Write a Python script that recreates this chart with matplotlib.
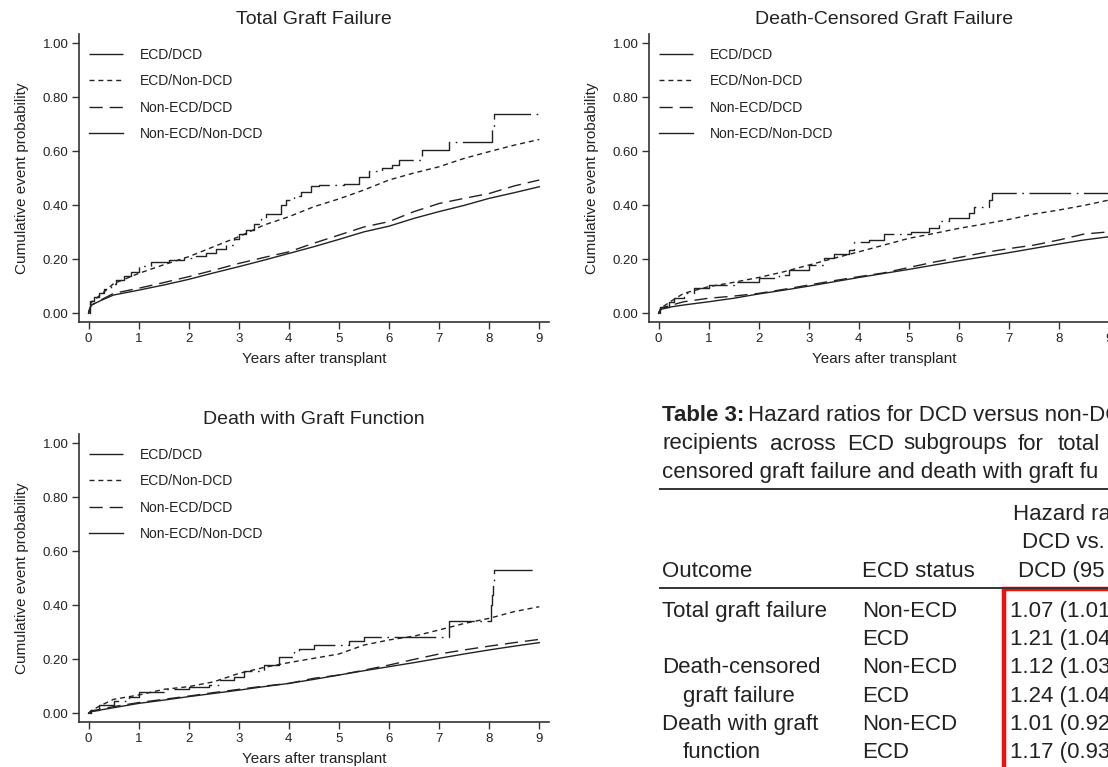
import matplotlib
matplotlib.use("Agg")
import matplotlib.pyplot as plt
from matplotlib.patches import Rectangle
from matplotlib.ticker import FormatStrFormatter

plt.rcParams['font.family'] = ['Liberation Sans', 'DejaVu Sans']

INK = '#222222'
W, H = 1108, 767

# follow-up grid (years) used for the three large groups
years = [0, 0.05, 0.25, 0.5, 1.0, 1.5, 2.0, 2.5, 3.0, 3.5, 4.0, 4.5,
         5.0, 5.5, 6.0, 6.5, 7.0, 7.5, 8.0, 8.5, 9.0]

# --- Total graft failure ---
tgf_ecd_dcd_t = [0, 0.02, 0.1, 0.2, 0.3, 0.45, 0.55, 0.7, 0.85, 1.0,
                 1.25, 1.6, 1.9, 2.1, 2.35, 2.55, 2.75, 2.9, 3.0, 3.15,
                 3.3, 3.45, 3.55, 3.85, 3.95, 4.1, 4.25, 4.45, 4.6, 5.1,
                 5.4, 5.6, 5.85, 6.05, 6.2, 6.65, 7.2, 8.05, 8.1, 9.0]
tgf_ecd_dcd = [0.0, 0.045, 0.06, 0.075, 0.09, 0.11, 0.125, 0.14, 0.155, 0.175,
               0.19, 0.197, 0.205, 0.212, 0.225, 0.24, 0.255, 0.275, 0.295, 0.31,
               0.33, 0.35, 0.368, 0.40, 0.42, 0.435, 0.45, 0.47, 0.475, 0.48,
               0.505, 0.528, 0.54, 0.55, 0.568, 0.605, 0.636, 0.69, 0.74, 0.74]
tgf_ecd_nondcd = [0.0, 0.04, 0.07, 0.11, 0.148, 0.18, 0.21, 0.247, 0.284, 0.327,
                  0.358, 0.395, 0.424, 0.457, 0.494, 0.52, 0.543, 0.574, 0.599,
                  0.623, 0.644]
tgf_nonecd_dcd = [0.0, 0.03, 0.05, 0.074, 0.093, 0.114, 0.136, 0.16, 0.185, 0.207,
                  0.228, 0.26, 0.29, 0.32, 0.34, 0.377, 0.407, 0.426, 0.444,
                  0.472, 0.494]
tgf_nonecd_nondcd = [0.0, 0.03, 0.048, 0.068, 0.086, 0.105, 0.126, 0.15, 0.173,
                     0.197, 0.222, 0.247, 0.274, 0.302, 0.323, 0.352, 0.377,
                     0.40, 0.426, 0.447, 0.469]

# --- Death-censored graft failure ---
dc_ecd_dcd_t = [0, 0.02, 0.2, 0.3, 0.5, 0.7, 1.0, 1.5, 2.0, 2.4,
                2.6, 3.0, 3.3, 3.5, 3.8, 3.9, 4.2, 4.5, 5.05, 5.4,
                5.6, 5.8, 6.2, 6.3, 6.6, 6.65, 9.0]
dc_ecd_dcd = [0.0, 0.025, 0.043, 0.056, 0.074, 0.093, 0.105, 0.117, 0.13, 0.142,
              0.16, 0.179, 0.204, 0.22, 0.235, 0.265, 0.272, 0.294, 0.30, 0.315,
              0.343, 0.352, 0.373, 0.395, 0.42, 0.447, 0.447]
dc_ecd_nondcd = [0.0, 0.02, 0.045, 0.074, 0.099, 0.115, 0.133, 0.154, 0.179, 0.204,
                 0.228, 0.253, 0.278, 0.296, 0.315, 0.331, 0.348, 0.368, 0.383,
                 0.40, 0.42]
dc_nonecd_dcd = [0.0, 0.02, 0.03, 0.043, 0.056, 0.064, 0.074, 0.089, 0.105, 0.121,
                 0.136, 0.15, 0.17, 0.19, 0.207, 0.225, 0.24, 0.253, 0.272,
                 0.294, 0.302]
dc_nonecd_nondcd = [0.0, 0.015, 0.024, 0.031, 0.043, 0.056, 0.072, 0.086, 0.101,
                    0.117, 0.133, 0.148, 0.163, 0.179, 0.195, 0.21, 0.225, 0.241,
                    0.257, 0.272, 0.284]

# --- Death with graft function ---
dgf_ecd_dcd_t = [0, 0.05, 0.2, 0.5, 0.8, 1.0, 1.5, 2.0, 2.4, 2.6,
                 2.9, 3.1, 3.5, 3.8, 4.1, 4.2, 4.5, 5.2, 5.5, 7.2,
                 8.03, 8.05, 8.07, 8.1, 8.9]
dgf_ecd_dcd = [0.0, 0.012, 0.03, 0.047, 0.062, 0.08, 0.09, 0.099, 0.105, 0.123,
               0.136, 0.158, 0.179, 0.21, 0.228, 0.24, 0.253, 0.269, 0.284, 0.343,
               0.40, 0.44, 0.49, 0.531, 0.531]
dgf_ecd_nondcd = [0.0, 0.01, 0.03, 0.052, 0.068, 0.089, 0.099, 0.117, 0.148, 0.17,
                  0.188, 0.204, 0.22, 0.253, 0.272, 0.286, 0.309, 0.333, 0.352,
                  0.377, 0.395]
dgf_nonecd_dcd = [0.0, 0.008, 0.016, 0.025, 0.04, 0.052, 0.064, 0.077, 0.089,
                  0.101, 0.111, 0.13, 0.142, 0.16, 0.179, 0.20, 0.22, 0.235,
                  0.249, 0.262, 0.274]
dgf_nonecd_nondcd = [0.0, 0.006, 0.013, 0.021, 0.037, 0.049, 0.062, 0.074, 0.086,
                     0.099, 0.111, 0.126, 0.142, 0.158, 0.173, 0.188, 0.204,
                     0.22, 0.235, 0.249, 0.262]

# --- Table 3 ---
caption_line1 = 'Hazard ratios for DCD versus non-DC'
caption_line2 = ['recipients', 'across', 'ECD', 'subgroups', 'for', 'total']
caption_line3 = 'censored graft failure and death with graft fu'
header_hr = ['Hazard ra', 'DCD vs.', 'DCD (95']
outcome_col = ['Total graft failure', '', 'Death-censored', 'graft failure',
               'Death with graft', 'function']
outcome_indent = [False, False, False, True, False, True]
ecd_col = ['Non-ECD', 'ECD', 'Non-ECD', 'ECD', 'Non-ECD', 'ECD']
hr_col = ['1.07 (1.01', '1.21 (1.04', '1.12 (1.03', '1.24 (1.04',
          '1.01 (0.92', '1.17 (0.93']


def px(x, y):
    return x / W, 1 - y / H


def km_panel(ax, title, dcd_t, dcd_v, ecd_nondcd, nonecd_dcd, nonecd_nondcd):
    lw = 1.0
    ax.plot(dcd_t, dcd_v, drawstyle='steps-post', color=INK, lw=lw,
            dashes=(30, 4, 1.2, 4), label='ECD/DCD')
    ax.plot(years, ecd_nondcd, color=INK, lw=lw, dashes=(3.6, 2.8),
            label='ECD/Non-DCD')
    ax.plot(years, nonecd_dcd, color=INK, lw=lw, dashes=(9.5, 5),
            label='Non-ECD/DCD')
    ax.plot(years, nonecd_nondcd, color=INK, lw=lw, ls='-',
            label='Non-ECD/Non-DCD')

    ax.set_xlim(-0.19, 9.19)
    ax.set_ylim(-0.033, 1.035)
    ax.set_xticks(range(10))
    ax.set_yticks([0, 0.2, 0.4, 0.6, 0.8, 1.0])
    ax.yaxis.set_major_formatter(FormatStrFormatter('%.2f'))
    for side in ('top', 'right'):
        ax.spines[side].set_visible(False)
    for side in ('left', 'bottom'):
        ax.spines[side].set_linewidth(1.2)
        ax.spines[side].set_color('#333333')
    ax.tick_params(direction='out', length=5, width=1, pad=2.5,
                   labelsize=9.5, colors='#333333', labelcolor=INK)

    ax.set_title(title, fontsize=14, pad=7, color=INK)
    ax.set_xlabel('Years after transplant', fontsize=11, labelpad=5.5, color=INK)
    ax.set_ylabel('Cumulative event probability', fontsize=11, labelpad=10,
                  color=INK)
    ax.legend(loc='upper left', bbox_to_anchor=(0.021, 0.952), frameon=False,
              fontsize=10, handlelength=2.45, handletextpad=1.2,
              labelspacing=0.9, borderpad=0, borderaxespad=0, labelcolor=INK)


fig = plt.figure(figsize=(W / 100, H / 100), dpi=100)

ax_w, ax_h = 469.8 / W, 288.4 / H
ax_tgf = fig.add_axes([79 / W, (H - 322.3) / H, ax_w, ax_h])
ax_dc = fig.add_axes([649 / W, (H - 322.3) / H, ax_w, ax_h])
ax_dgf = fig.add_axes([79 / W, (H - 722.3) / H, ax_w, ax_h])

km_panel(ax_tgf, 'Total Graft Failure', tgf_ecd_dcd_t, tgf_ecd_dcd,
         tgf_ecd_nondcd, tgf_nonecd_dcd, tgf_nonecd_nondcd)
km_panel(ax_dc, 'Death-Censored Graft Failure', dc_ecd_dcd_t, dc_ecd_dcd,
         dc_ecd_nondcd, dc_nonecd_dcd, dc_nonecd_nondcd)
km_panel(ax_dgf, 'Death with Graft Function', dgf_ecd_dcd_t, dgf_ecd_dcd,
         dgf_ecd_nondcd, dgf_nonecd_dcd, dgf_nonecd_nondcd)

# table caption
tfs = 16
fig.text(*px(662, 421), 'Table 3:', fontsize=tfs, fontweight='bold', color=INK)
fig.text(*px(748, 421), caption_line1, fontsize=tfs, color=INK)
for word, x in zip(caption_line2, [662, 770, 847, 903, 1018, 1058]):
    fig.text(*px(x, 449.5), word, fontsize=tfs, color=INK)
fig.text(*px(662, 478), caption_line3, fontsize=tfs, color=INK)

# rules
fig.add_artist(plt.Line2D([660 / W, 1.0], [1 - 489.3 / H] * 2, color='#333333',
                          lw=1.4))
fig.add_artist(plt.Line2D([660 / W, 1.0], [1 - 588.3 / H] * 2, color='#333333',
                          lw=1.4))

# header
for txt, x, y in zip(header_hr, [1013, 1022, 1018], [520, 548.3, 576.7]):
    fig.text(*px(x, y), txt, fontsize=tfs, color=INK)
fig.text(*px(662, 576.7), 'Outcome', fontsize=tfs, color=INK)
fig.text(*px(862, 576.7), 'ECD status', fontsize=tfs, color=INK)

# body rows
for i, (out, ind, ecd, hr) in enumerate(zip(outcome_col, outcome_indent,
                                             ecd_col, hr_col)):
    y = 616.7 + i * 28.33
    fig.text(*px(683 if ind else 662, y), out, fontsize=tfs, color=INK)
    fig.text(*px(862, y), ecd, fontsize=tfs, color=INK)
    fig.text(*px(1010, y), hr, fontsize=tfs, color=INK)

# highlight box round the hazard-ratio column
x0, y0 = px(1004, 589)
fig.add_artist(Rectangle((x0, -0.1), 0.2, y0 + 0.1, transform=fig.transFigure,
                         fill=False, edgecolor='#f01010', lw=3.2))

fig.savefig('out.png', dpi=100)
